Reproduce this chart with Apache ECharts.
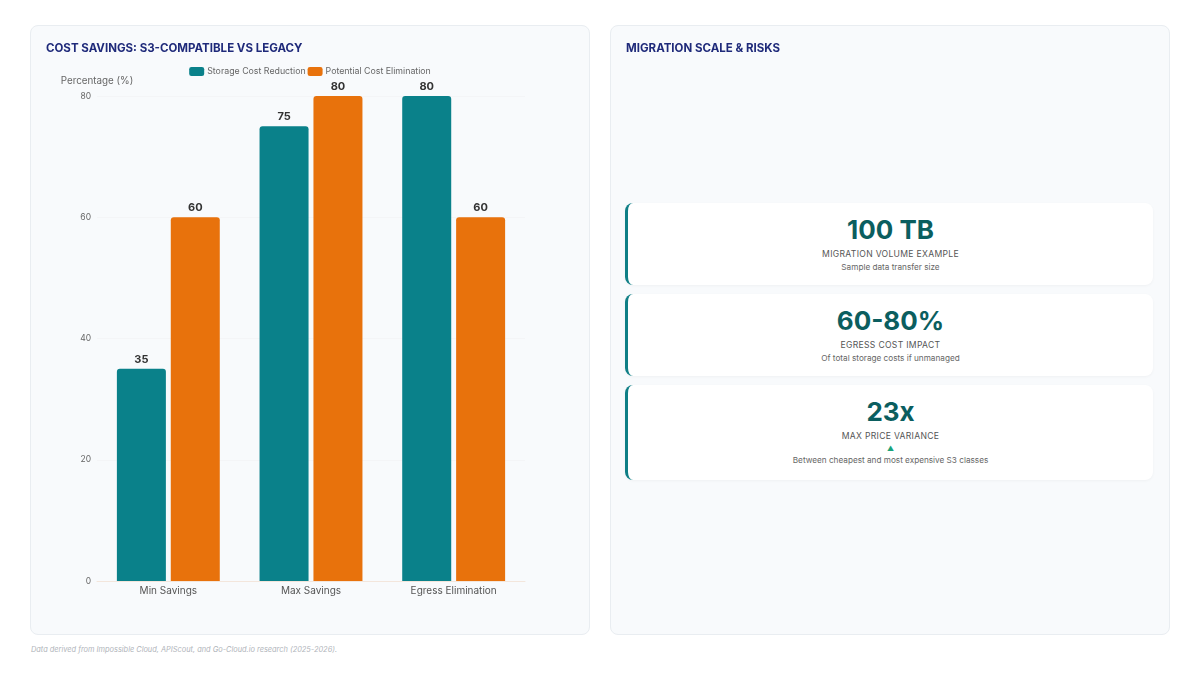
<!DOCTYPE html>
<html>
<head>
<meta charset="utf-8">
<script src="https://cdn.jsdelivr.net/npm/echarts@6/dist/echarts.min.js"></script>
<style>
  html, body { margin: 0; padding: 0; background: #ffffff; width: 1200px; height: 675px; overflow: hidden; font-family: Inter, "Noto Sans", sans-serif; }
  .card { position: absolute; top: 25px; width: 558px; height: 608px; background: #f8fafc; border: 1px solid #e9edf1; border-radius: 8px; }
  .title { position: absolute; left: 15px; top: 15px; font-size: 11.5px; font-weight: 700; color: #1f2a7a; letter-spacing: 0px; }
  #chart { position: absolute; left: 0; top: 0; width: 558px; height: 608px; }
  .stat { position: absolute; left: 14px; width: 525px; background: #ffffff; border-left: 3px solid #0f7f86; border-radius: 8px; box-shadow: 0 1px 3px rgba(0,0,0,0.04); text-align: center; }
  .num { font-size: 26px; font-weight: 700; color: #0b5e5f; line-height: 30px; }
  .lbl { font-size: 8.6px; color: #555; letter-spacing: 0.3px; margin-top: 3px; line-height: 12px; }
  .sub { font-size: 8.2px; color: #666; margin-top: 2px; line-height: 11px; }
  .tri { font-size: 7px; color: #1aa37a; line-height: 9px; margin-top: 2px; }
  .foot { position: absolute; left: 31px; top: 645px; font-size: 7.4px; font-style: italic; color: #b0b4ba; }
</style>
</head>
<body>
<div class="card" style="left:30px;">
  <div id="chart"></div>
  <div class="title">COST SAVINGS: S3-COMPATIBLE VS LEGACY</div>
</div>
<div class="card" style="left:610px;">
  <div class="title">MIGRATION SCALE &amp; RISKS</div>
  <div class="stat" style="top:177px;height:82px;">
    <div class="num" style="margin-top:12px;">100 TB</div>
    <div class="lbl">MIGRATION VOLUME EXAMPLE</div>
    <div class="sub">Sample data transfer size</div>
  </div>
  <div class="stat" style="top:268px;height:82px;">
    <div class="num" style="margin-top:12px;">60-80%</div>
    <div class="lbl">EGRESS COST IMPACT</div>
    <div class="sub">Of total storage costs if unmanaged</div>
  </div>
  <div class="stat" style="top:359px;height:95px;">
    <div class="num" style="margin-top:12px;">23x</div>
    <div class="lbl">MAX PRICE VARIANCE</div>
    <div class="tri">▲</div>
    <div class="sub">Between cheapest and most expensive S3 classes</div>
  </div>
</div>
<div class="foot">Data derived from Impossible Cloud, APIScout, and Go-Cloud.io research (2025-2026).</div>
<script>
const categories = ['Min Savings', 'Max Savings', 'Egress Elimination'];
const seriesNames = ['Storage Cost Reduction', 'Potential Cost Elimination'];
const storageCostReduction = [35, 75, 80];
const potentialCostElimination = [60, 80, 60];
const yTicks = [0, 20, 40, 60, 80];

const colors = ['#0a818a', '#e8720c'];
const chart = echarts.init(document.getElementById('chart'));
chart.setOption({
  animation: false,
  textStyle: { fontFamily: 'Inter, "Noto Sans", sans-serif' },
  legend: {
    top: 36, left: 'center', itemWidth: 15, itemHeight: 9, itemGap: 2,
    icon: 'roundRect',
    textStyle: { fontSize: 8.8, color: '#666', padding: [0, 0, 0, -2] },
    data: seriesNames
  },
  grid: { left: 66, right: 64, top: 70, bottom: 53 },
  xAxis: {
    type: 'category', data: categories,
    axisLine: { show: true, lineStyle: { color: '#f3e6dc' } },
    axisTick: { show: false },
    axisLabel: { fontSize: 10, color: '#555', margin: 5 }
  },
  yAxis: {
    type: 'value', min: yTicks[0], max: yTicks[yTicks.length - 1], interval: 20,
    name: 'Percentage (%)', nameLocation: 'end', nameGap: 10,
    nameTextStyle: { fontSize: 9.8, color: '#666', align: 'center' },
    axisLine: { show: false }, axisTick: { show: false },
    axisLabel: { fontSize: 8.5, color: '#666', margin: 6 },
    splitLine: { lineStyle: { color: '#f4f5f7' } }
  },
  series: [
    { name: seriesNames[0], type: 'bar', data: storageCostReduction, barWidth: 49, barGap: '10%',
      itemStyle: { color: colors[0], borderRadius: [3, 3, 0, 0] },
      label: { show: true, position: 'top', distance: 4, fontSize: 11, fontWeight: 'bold', color: '#333' } },
    { name: seriesNames[1], type: 'bar', data: potentialCostElimination, barWidth: 49,
      itemStyle: { color: colors[1], borderRadius: [3, 3, 0, 0] },
      label: { show: true, position: 'top', distance: 4, fontSize: 11, fontWeight: 'bold', color: '#333' } }
  ]
});
</script>
</body>
</html>
